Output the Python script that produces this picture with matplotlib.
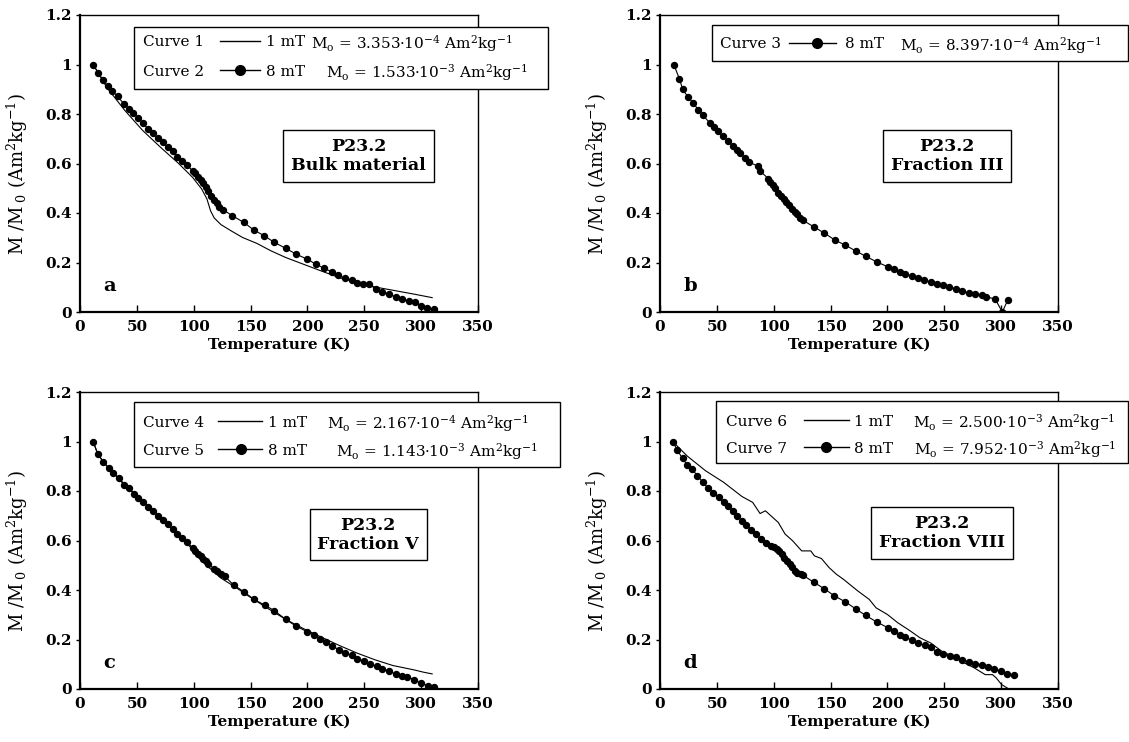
import matplotlib
matplotlib.use('Agg')
import matplotlib.pyplot as plt
from matplotlib.patches import Rectangle
from matplotlib.lines import Line2D

plt.rcParams['font.family'] = ['DejaVu Serif']
plt.rcParams['mathtext.fontset'] = 'dejavuserif'

W, H = 1129, 742

# ---- data ----
x_ticks = [0, 50, 100, 150, 200, 250, 300, 350]
y_ticks = [0, 0.2, 0.4, 0.6, 0.8, 1.0, 1.2]
y_ticklabels = ['0', '0.2', '0.4', '0.6', '0.8', '1', '1.2']

# panel a, curve 1 (1 mT, line)
T1 = [11.6, 23.6, 39.3, 55, 70.7, 86.5, 99, 107, 111.6, 114.8, 118, 124, 133.6, 143,
      155.6, 168, 181, 196.5, 212, 228, 243.7, 259.4, 275, 294, 309.7]
M1 = [1.0, 0.907, 0.815, 0.734, 0.666, 0.601, 0.544, 0.497, 0.457, 0.409, 0.38, 0.353,
      0.326, 0.301, 0.277, 0.247, 0.22, 0.193, 0.166, 0.139, 0.119, 0.101, 0.088, 0.072, 0.058]
# panel a, curve 2 (8 mT, dots)
T2 = [11.6, 16, 20.4, 24.5, 28.3, 33, 38.4, 43, 47, 51, 55.6, 59.7, 63.8, 68.2, 72.6, 77,
      81.4, 85.5, 89.6, 94, 99, 101.5, 104, 106, 108.5, 111, 113, 115.4, 118, 120.4, 122.6,
      125.8, 134, 144, 153, 162, 171, 181, 190, 200, 207.5, 215, 221.6, 227, 233, 239, 243.7,
      249, 254, 260, 265.7, 272, 277.6, 283, 289, 294.6, 300, 305, 311]
M2 = [1.0, 0.966, 0.936, 0.912, 0.893, 0.871, 0.842, 0.821, 0.804, 0.785, 0.763, 0.74, 0.723,
      0.704, 0.686, 0.666, 0.65, 0.628, 0.612, 0.593, 0.571, 0.56, 0.547, 0.534, 0.52, 0.504,
      0.488, 0.47, 0.453, 0.439, 0.426, 0.413, 0.389, 0.362, 0.331, 0.308, 0.281, 0.257, 0.234,
      0.213, 0.193, 0.176, 0.162, 0.15, 0.136, 0.128, 0.119, 0.112, 0.115, 0.092, 0.082, 0.072,
      0.061, 0.054, 0.045, 0.04, 0.024, 0.018, 0.011]

# panel b, curve 3 (8 mT, dots)
T3 = [12.1, 17, 20, 24.6, 29, 33.6, 37.7, 43.8, 47.3, 51, 55.3, 59.8, 63.9, 67.8, 70.3, 74.5,
      78.6, 86.3, 88, 95.2, 96.8, 99, 101.3, 103.9, 106.4, 108.7, 110.9, 113.5, 116, 118.3,
      120.5, 123, 125.6, 135.2, 144.5, 154, 163, 172, 181, 190.8, 200.7, 205.5, 211, 215.7,
      221.5, 227, 232, 238, 243.5, 249, 254, 260.5, 266, 271.7, 277.4, 283, 286.7, 294.7, 301, 306]
M3 = [1.0, 0.943, 0.899, 0.869, 0.845, 0.818, 0.795, 0.764, 0.748, 0.73, 0.71, 0.691, 0.672,
      0.654, 0.643, 0.624, 0.605, 0.589, 0.57, 0.539, 0.526, 0.512, 0.499, 0.481, 0.468, 0.458,
      0.445, 0.431, 0.418, 0.404, 0.395, 0.381, 0.371, 0.344, 0.319, 0.29, 0.27, 0.247, 0.225,
      0.202, 0.182, 0.173, 0.162, 0.155, 0.144, 0.137, 0.131, 0.121, 0.115, 0.108, 0.101, 0.094,
      0.085, 0.077, 0.071, 0.067, 0.061, 0.053, 0.0, 0.05]

# panel c, curve 4 (1 mT, line)
T4 = [11.6, 15.7, 23.6, 39.3, 55, 70.7, 86.5, 100.6, 111.6, 124, 136.8, 149, 165, 181, 196.5,
      212, 228, 243.7, 259.4, 275, 294, 302, 309.7]
M4 = [1.0, 0.946, 0.902, 0.827, 0.76, 0.692, 0.624, 0.556, 0.498, 0.448, 0.411, 0.373, 0.326,
      0.281, 0.244, 0.21, 0.176, 0.145, 0.118, 0.095, 0.077, 0.068, 0.061]
# panel c, curve 5 (8 mT, dots)
T5 = [11.6, 15.7, 20.4, 25.2, 29.2, 34, 38.7, 43, 47.5, 51, 55.6, 59.7, 63.8, 68.2, 72.6, 77,
      81.4, 85.5, 89.6, 94.3, 99, 101.5, 103.7, 106.3, 108.5, 110.7, 113, 118, 120.4, 123.6,
      127.3, 135, 144, 153, 162.5, 171, 181, 190, 200, 206, 211, 216, 222, 228, 233, 239, 243.7,
      250, 255, 261, 266, 272, 277.6, 283, 288, 294, 300, 305.6, 311]
M5 = [1.0, 0.95, 0.919, 0.891, 0.872, 0.851, 0.824, 0.811, 0.787, 0.773, 0.756, 0.737, 0.719,
      0.701, 0.683, 0.665, 0.647, 0.628, 0.611, 0.593, 0.57, 0.556, 0.547, 0.536, 0.525, 0.516,
      0.506, 0.484, 0.475, 0.465, 0.455, 0.421, 0.393, 0.362, 0.339, 0.316, 0.281, 0.254, 0.231,
      0.217, 0.204, 0.19, 0.172, 0.159, 0.145, 0.136, 0.122, 0.113, 0.102, 0.091, 0.081, 0.072,
      0.061, 0.054, 0.05, 0.037, 0.023, 0.014, 0.007]

# panel d, curve 6 (1 mT, line)
T6 = [11.2, 24, 40, 56, 72, 81.5, 88, 92.7, 104, 110, 116.6, 124.6, 132.6, 135.8, 142, 148.6,
      155, 161.4, 167.8, 174, 184, 190, 200, 209, 219, 228.6, 238, 247.7, 257, 266.6, 276.5,
      286, 292.4, 295.6, 300.4, 306.8]
M6 = [1.0, 0.941, 0.882, 0.835, 0.778, 0.754, 0.709, 0.72, 0.673, 0.626, 0.599, 0.558, 0.558,
      0.538, 0.527, 0.491, 0.464, 0.443, 0.419, 0.396, 0.362, 0.328, 0.301, 0.268, 0.238, 0.207,
      0.186, 0.153, 0.132, 0.108, 0.085, 0.058, 0.058, 0.045, 0.018, 0.0]
# panel d, curve 7 (8 mT, dots)
T7 = [11.2, 15.3, 19.8, 24, 28, 32.9, 37.7, 42.5, 47, 51.5, 55.9, 59.8, 63.9, 67.8, 71.9, 76,
      80.2, 84.7, 88.8, 93, 97.5, 100, 102.6, 104.8, 107, 109.3, 111.9, 114, 116, 118.3, 120.5,
      123.7, 126, 135, 144.5, 153.4, 162.7, 172, 181, 190.8, 200.7, 205.5, 211, 215.7, 221.5,
      227, 232.7, 238, 243.5, 249, 254.6, 260.5, 266, 271.7, 277.4, 283.5, 288.6, 294, 299.5,
      305, 311]
M7 = [1.0, 0.964, 0.932, 0.905, 0.889, 0.862, 0.835, 0.811, 0.792, 0.774, 0.754, 0.741, 0.72,
      0.7, 0.68, 0.662, 0.643, 0.626, 0.605, 0.588, 0.578, 0.572, 0.565, 0.558, 0.545, 0.531,
      0.518, 0.504, 0.491, 0.477, 0.468, 0.464, 0.459, 0.432, 0.405, 0.376, 0.353, 0.324, 0.297,
      0.27, 0.247, 0.234, 0.22, 0.209, 0.197, 0.186, 0.176, 0.169, 0.149, 0.143, 0.135, 0.128,
      0.119, 0.109, 0.103, 0.096, 0.089, 0.081, 0.072, 0.061, 0.055]

mo_a = [r'M$_\mathrm{o}$ = 3.353·10$^{-4}$ Am$^2$kg$^{-1}$', r'M$_\mathrm{o}$ = 1.533·10$^{-3}$ Am$^2$kg$^{-1}$']
mo_b = [r'M$_\mathrm{o}$ = 8.397·10$^{-4}$ Am$^2$kg$^{-1}$']
mo_c = [r'M$_\mathrm{o}$ = 2.167·10$^{-4}$ Am$^2$kg$^{-1}$', r'M$_\mathrm{o}$ = 1.143·10$^{-3}$ Am$^2$kg$^{-1}$']
mo_d = [r'M$_\mathrm{o}$ = 2.500·10$^{-3}$ Am$^2$kg$^{-1}$', r'M$_\mathrm{o}$ = 7.952·10$^{-3}$ Am$^2$kg$^{-1}$']


fig = plt.figure(figsize=(W / 100, H / 100), dpi=100)
AXW, AXH = 398, 297


def make_axes(left, top):
    ax = fig.add_axes([left / W, 1 - (top + AXH) / H, AXW / W, AXH / H])
    ax.set_xlim(0, 350)
    ax.set_ylim(0, 1.2)
    ax.set_xticks(x_ticks)
    ax.set_xticklabels([str(t) for t in x_ticks], fontweight='bold', fontsize=11)
    ax.set_yticks(y_ticks)
    ax.set_yticklabels(y_ticklabels, fontweight='bold', fontsize=11)
    ax.tick_params(axis='x', direction='in', length=5, width=1, pad=6)
    ax.tick_params(axis='y', direction='out', length=3, width=1, pad=3)
    ax.spines['left'].set_linewidth(1.6)
    ax.spines['bottom'].set_linewidth(1.6)
    ax.spines['top'].set_linewidth(1.0)
    ax.spines['right'].set_linewidth(1.0)
    ax.set_ylabel(r'M /M$_{\ 0}$ (Am$^2$kg$^{-1}$)', fontsize=13)
    ax.yaxis.set_label_coords(-0.125, 0.465)
    return ax


def px(dx, dy):
    # offset from the axes' top-left corner in pixels -> axes fraction
    return dx / AXW, 1 - dy / AXH


def legend_box(ax, box, rows):
    x0, y0 = px(box[0], box[3])
    x1, y1 = px(box[1], box[2])
    ax.add_patch(Rectangle((x0, y0), x1 - x0, y1 - y0, transform=ax.transAxes,
                           fill=True, facecolor='white', edgecolor='black', lw=1.0,
                           clip_on=False, zorder=5))
    for r in rows:
        dy, name, lx0, lx1, marker, field, fx, mo, mx = r
        tx, ty = px(name[1], dy)
        ax.text(tx, ty, name[0], transform=ax.transAxes, fontsize=11, va='center_baseline',
                ha='left', zorder=6, clip_on=False)
        a0, _ = px(lx0, dy)
        a1, _ = px(lx1, dy)
        ax.add_line(Line2D([a0, a1], [ty, ty], transform=ax.transAxes, color='black', lw=1.0,
                           clip_on=False, zorder=6))
        if marker is not None:
            mxp, _ = px(marker, dy)
            ax.add_line(Line2D([mxp], [ty], transform=ax.transAxes, marker='o', color='black',
                               markersize=7, clip_on=False, zorder=7))
        fxp, _ = px(fx, dy)
        ax.text(fxp, ty, field, transform=ax.transAxes, fontsize=11, va='center_baseline',
                ha='left', zorder=6, clip_on=False)
        mxp, _ = px(mx, dy)
        ax.text(mxp, ty, mo, transform=ax.transAxes, fontsize=11, va='center_baseline',
                ha='left', zorder=6, clip_on=False)


def sample_box(ax, xc, yc, txt):
    ax.text(xc, yc, txt, transform=ax.transAxes, ha='center', va='center', fontsize=12.5,
            fontweight='bold', linespacing=1.15, zorder=6,
            bbox=dict(boxstyle='square,pad=0.45', facecolor='white', edgecolor='black', lw=1.0))


def letter(ax, s):
    ax.text(0.058, 0.072, s, transform=ax.transAxes, fontsize=14, fontweight='bold', ha='left',
            va='baseline')


line_kw = dict(color='black', lw=0.8)
dot_kw = dict(color='black', lw=0.8, marker='o', markersize=4.3)

# ---- a ----
ax_a = make_axes(80, 15)
ax_a.plot(T1, M1, **line_kw)
ax_a.plot(T2, M2, **dot_kw)
legend_box(ax_a, (54, 468, 12, 74), [
    (26, ('Curve 1', 63), 140, 180, None, '1 mT', 186, mo_a[0], 231),
    (55, ('Curve 2', 63), 140, 180, 160, '8 mT', 186, mo_a[1], 246),
])
sample_box(ax_a, 0.70, 0.526, 'P23.2\nBulk material')
letter(ax_a, 'a')
ax_a.set_xlabel('Temperature (K)', fontsize=11, fontweight='bold', labelpad=2)

# ---- b ----
ax_b = make_axes(660, 15)
ax_b.plot(T3, M3, **dot_kw)
legend_box(ax_b, (52, 468, 10, 46), [
    (28, ('Curve 3', 60), 129, 176, 157, '8 mT', 185, mo_b[0], 240),
])
sample_box(ax_b, 0.721, 0.526, 'P23.2\nFraction III')
letter(ax_b, 'b')
ax_b.set_xlabel('Temperature (K)', fontsize=11, fontweight='bold', labelpad=2)

# ---- c ----
ax_c = make_axes(80, 392)
ax_c.plot(T4, M4, **line_kw)
ax_c.plot(T5, M5, **dot_kw)
legend_box(ax_c, (54, 480, 10, 75), [
    (29, ('Curve 4', 63), 138, 182, None, '1 mT', 188, mo_c[0], 247),
    (57, ('Curve 5', 63), 138, 182, 161, '8 mT', 188, mo_c[1], 256),
])
sample_box(ax_c, 0.724, 0.52, 'P23.2\nFraction V')
letter(ax_c, 'c')
ax_c.set_xlabel('Temperature (K)', fontsize=11, fontweight='bold', labelpad=2)

# ---- d ----
ax_d = make_axes(660, 392)
ax_d.plot(T6, M6, **line_kw)
ax_d.plot(T7, M7, **dot_kw)
legend_box(ax_d, (56, 468, 9, 71), [
    (28, ('Curve 6', 66), 144, 189, None, '1 mT', 194, mo_d[0], 253),
    (55, ('Curve 7', 66), 144, 189, 166, '8 mT', 194, mo_d[1], 254),
])
sample_box(ax_d, 0.709, 0.526, 'P23.2\nFraction VIII')
letter(ax_d, 'd')
ax_d.set_xlabel('Temperature (K)', fontsize=11, fontweight='bold', labelpad=2)

fig.savefig('out.png', dpi=100)
